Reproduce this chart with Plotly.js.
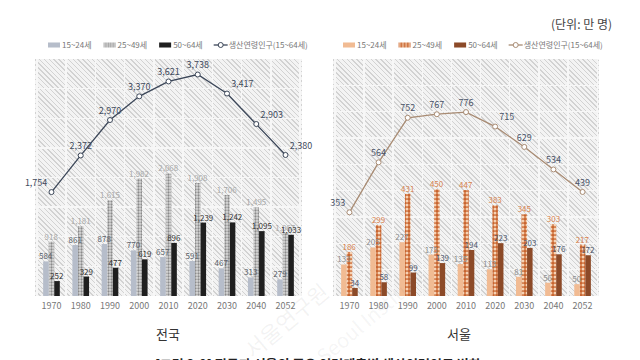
<!DOCTYPE html>
<html>
<head>
<meta charset="utf-8">
<script src="https://cdn.plot.ly/plotly-3.0.1.min.js"></script>
<style>
  html, body { margin: 0; padding: 0; background: #ffffff; }
  #wrap { position: relative; width: 640px; height: 360px; overflow: hidden; }
  .hatch { position: absolute; background: repeating-linear-gradient(45deg, #d2d2d2 0px, #d2d2d2 1px, #f3f3f3 1px, #f3f3f3 3.4px); }
  #chart { position: absolute; left: 0; top: 0; width: 640px; height: 360px; }
</style>
</head>
<body>
<div id="wrap">
  <div class="hatch" style="left:35px; top:59px; width:267px; height:237px;"></div>
  <div class="hatch" style="left:333px; top:59px; width:266px; height:237px;"></div>
  <div id="chart"></div>
</div>
<script>
// ---- data ----
const years = ['1970', '1980', '1990', '2000', '2010', '2020', '2030', '2040', '2052'];
const seriesNames = ['15~24세', '25~49세', '50~64세', '생산연령인구(15~64세)'];
const kr_15_24 = [584, 861, 878, 770, 657, 591, 467, 313, 279];
const kr_25_49 = [918, 1181, 1615, 1982, 2068, 1908, 1706, 1495, 1067];
const kr_50_64 = [252, 329, 477, 619, 896, 1239, 1242, 1095, 1033];
const kr_total = [1754, 2372, 2970, 3370, 3621, 3738, 3417, 2903, 2380];
const se_15_24 = [133, 205, 227, 175, 135, 113, 81, 56, 50];
const se_25_49 = [186, 299, 431, 450, 447, 383, 345, 303, 217];
const se_50_64 = [34, 58, 99, 139, 194, 223, 203, 176, 172];
const se_total = [353, 564, 752, 767, 776, 715, 629, 534, 439];
const panelTitles = ['전국', '서울'];

const FONT = 'Noto Sans CJK KR, Noto Sans, sans-serif';
const BW = 0.19;                                  // bar width in category units
const OFFS = [-1.5 * BW, -0.5 * BW, 0.5 * BW];    // slot offsets within a category

function barTrace(x, y, name, slot, xa, ya, leg, rank, color, textColor, pattern) {
  const t = {
    type: 'bar', x: x, y: y, name: name, xaxis: xa, yaxis: ya, legend: leg, legendrank: rank,
    width: BW, offset: OFFS[slot],
    marker: { color: color, line: { width: 0 } },
    texttemplate: '%{y:,}', textposition: 'outside', constraintext: 'none', cliponaxis: false,
    textfont: { family: FONT, size: 8, color: textColor },
    hoverinfo: 'skip'
  };
  if (pattern) t.marker.pattern = pattern;
  return t;
}

const krLinePos = ['top left', 'top center', 'top center', 'top center', 'top center', 'top center', 'top right', 'top right', 'top right'];
const seLinePos = ['top left', 'top center', 'top center', 'top center', 'top center', 'top right', 'top center', 'top center', 'top center'];

// 25~49 drawn first so that the neighbouring labels sit on top of it
const traces = [
  barTrace(years, kr_25_49, seriesNames[1], 1, 'x', 'y', 'legend', 2, '#d4d4d4', '#a9a9a9',
    { shape: '.', fgcolor: '#8a8a8a', bgcolor: '#dcdcdc', size: 3, solidity: 0.45 }),
  barTrace(years, kr_15_24, seriesNames[0], 0, 'x', 'y', 'legend', 1, '#b6bdca', '#5a5f68'),
  barTrace(years, kr_50_64, seriesNames[2], 2, 'x', 'y', 'legend', 3, '#1f1f1f', '#333333'),
  {
    type: 'scatter', mode: 'lines+markers+text', x: years, y: kr_total, name: seriesNames[3],
    xaxis: 'x', yaxis: 'y', legend: 'legend', legendrank: 4,
    line: { color: '#3b4658', width: 1.3 },
    marker: { symbol: 'circle', size: 5, color: '#ffffff', line: { color: '#3b4658', width: 1 } },
    texttemplate: '%{y:,}', textposition: krLinePos, cliponaxis: false,
    textfont: { family: FONT, size: 9, color: '#3f4a5c' }, hoverinfo: 'skip'
  },
  barTrace(years, se_25_49, seriesNames[1], 1, 'x2', 'y2', 'legend2', 2, '#e09060', '#d9834f',
    { shape: '.', fgcolor: '#f6d2b4', bgcolor: '#c9652f', size: 4, solidity: 0.45 }),
  barTrace(years, se_15_24, seriesNames[0], 0, 'x2', 'y2', 'legend2', 1, '#f1bb93', '#8f8f8f'),
  barTrace(years, se_50_64, seriesNames[2], 2, 'x2', 'y2', 'legend2', 3, '#8c4a28', '#4e566a'),
  {
    type: 'scatter', mode: 'lines+markers+text', x: years, y: se_total, name: seriesNames[3],
    xaxis: 'x2', yaxis: 'y2', legend: 'legend2', legendrank: 4,
    line: { color: '#a88b73', width: 1.3 },
    marker: { symbol: 'circle', size: 5, color: '#ffffff', line: { color: '#a88b73', width: 1 } },
    texttemplate: '%{y:,}', textposition: seLinePos, cliponaxis: false,
    textfont: { family: FONT, size: 9, color: '#4a5468' }, hoverinfo: 'skip'
  }
];

const xaxisBase = {
  type: 'category', tickson: 'boundaries', showgrid: true, gridcolor: '#f7f7f7', gridwidth: 1.3,
  showline: false, zeroline: false, ticks: '', ticklen: 0, ticklabelstandoff: 3,
  tickfont: { family: FONT, size: 9, color: '#777777' }, fixedrange: true
};
const yaxisBase = {
  showgrid: true, gridcolor: '#f7f7f7', gridwidth: 1.3, showline: false, zeroline: false,
  showticklabels: false, ticks: '', fixedrange: true
};

const legendBase = {
  orientation: 'h', bgcolor: 'rgba(0,0,0,0)', font: { family: FONT, size: 8, color: '#777777' },
  itemwidth: 30, xanchor: 'right', x: 1, yanchor: 'top', y: 1, itemclick: false, itemdoubleclick: false,
  traceorder: 'normal'
};

const layout = {
  width: 640, height: 360,
  margin: { l: 0, r: 0, t: 0, b: 0, pad: 0, autoexpand: false },
  paper_bgcolor: 'rgba(0,0,0,0)', plot_bgcolor: 'rgba(0,0,0,0)',
  font: { family: FONT, color: '#555555' },
  separators: '.,',
  barmode: 'overlay',
  showlegend: true,
  xaxis: Object.assign({}, xaxisBase, { domain: [35 / 640, 302 / 640], anchor: 'y' }),
  yaxis: Object.assign({}, yaxisBase, { domain: [64 / 360, 301 / 360], range: [0, 4000], dtick: 500, anchor: 'x' }),
  xaxis2: Object.assign({}, xaxisBase, { domain: [333 / 640, 599 / 640], anchor: 'y2' }),
  yaxis2: Object.assign({}, yaxisBase, { domain: [64 / 360, 301 / 360], range: [0, 1000], dtick: 1000 / 9, anchor: 'x2' }),
  legend: Object.assign({}, legendBase),
  legend2: Object.assign({}, legendBase),
  annotations: [
    { text: panelTitles[0], xref: 'paper', yref: 'paper', x: 168 / 640, y: 27 / 360, xanchor: 'center', yanchor: 'middle',
      showarrow: false, font: { family: FONT, size: 13, color: '#333333' } },
    { text: panelTitles[1], xref: 'paper', yref: 'paper', x: 459 / 640, y: 27 / 360, xanchor: 'center', yanchor: 'middle',
      showarrow: false, font: { family: FONT, size: 13, color: '#333333' } },
    { text: '(단위: 만 명)', xref: 'paper', yref: 'paper', x: 614 / 640, y: 336 / 360, xanchor: 'right', yanchor: 'middle',
      showarrow: false, font: { family: FONT, size: 12, color: '#444444' } },
    { text: '<b>[그림 2-9] 전국과 서울의 주요 연령계층별 생산연령인구 변화</b>', xref: 'paper', yref: 'paper',
      x: 318 / 640, y: -3 / 360, xanchor: 'center', yanchor: 'middle',
      showarrow: false, font: { family: FONT, size: 13, color: '#222222' } },
    { text: '서울연구원', xref: 'paper', yref: 'paper', x: 285 / 640, y: 40 / 360, xanchor: 'center', yanchor: 'middle',
      showarrow: false, textangle: -40, font: { family: FONT, size: 22, color: 'rgba(120,120,120,0.09)' } },
    { text: 'Seoul Institute', xref: 'paper', yref: 'paper', x: 370 / 640, y: 45 / 360, xanchor: 'center', yanchor: 'middle',
      showarrow: false, textangle: -40, font: { family: FONT, size: 20, color: 'rgba(120,120,120,0.08)' } }
  ]
};

const gd = document.getElementById('chart');

// Tighten a Plotly legend into a single compact row (smaller swatches, closer spacing)
function compactLegend(cls, left, top) {
  const leg = gd.querySelector('g.' + cls);
  if (!leg) return;
  leg.querySelectorAll('[clip-path]').forEach(function (n) { n.removeAttribute('clip-path'); });
  leg.removeAttribute('clip-path');
  const items = leg.querySelectorAll('g.traces');
  let x = 0;
  items.forEach(function (t) {
    const txt = t.querySelector('text.' + cls + 'text') || t.querySelector('text');
    const lines = t.querySelectorAll('g.legendlines path');
    const pts = t.querySelectorAll('g.legendpoints path');
    if (lines.length) {
      lines.forEach(function (p) { p.setAttribute('d', 'M0,0h14'); p.removeAttribute('transform'); });
      pts.forEach(function (p) { p.setAttribute('transform', 'translate(7,0)'); });
    } else {
      pts.forEach(function (p) { p.setAttribute('transform', 'translate(7,0) scale(1,0.42)'); });
    }
    if (txt) {
      txt.setAttribute('x', 15);
      txt.querySelectorAll('tspan.line').forEach(function (s) { s.setAttribute('x', 15); });
    }
    const w = txt ? txt.getBBox().width : 30;
    t.setAttribute('transform', 'translate(' + x + ',0)');
    x += 15 + w + 11;
  });
  leg.setAttribute('transform', 'translate(' + left + ',' + top + ')');
  const bg = leg.querySelector('rect.bg');
  if (bg) bg.setAttribute('width', 0);
}
function fixLegends() {
  compactLegend('legend', 47, 45);
  compactLegend('legend2', 342, 45);
}

Plotly.newPlot(gd, traces, layout, { staticPlot: true, displayModeBar: false }).then(function () {
  fixLegends();
  setTimeout(fixLegends, 50);
});
</script>
</body>
</html>
